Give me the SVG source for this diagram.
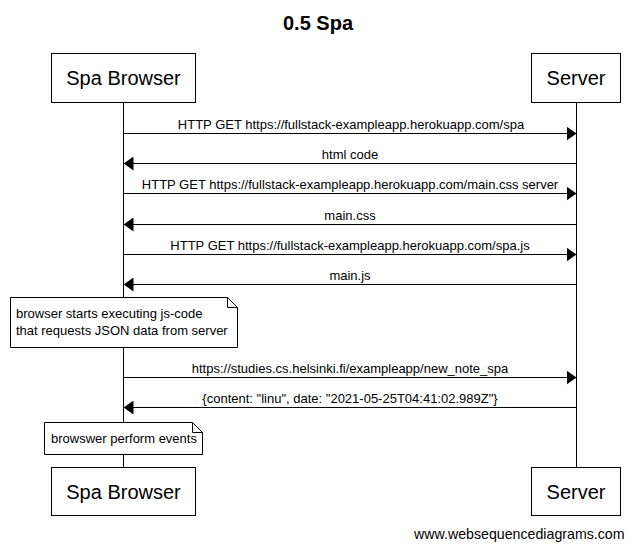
<svg xmlns="http://www.w3.org/2000/svg" width="635" height="550" viewBox="0 0 635 550">
<style>
text{font-family:"Liberation Sans",Arial,sans-serif;fill:#000}
.title{font-size:20px;font-weight:bold;text-anchor:middle}
.actor rect{fill:#fff;stroke:#000;stroke-width:1}
.actor text{font-size:20px;text-anchor:middle}
.life{stroke:#000;stroke-width:1}
.msg line{stroke:#000;stroke-width:1}
.msg text{font-size:13px;text-anchor:middle}
.note path{fill:#fff;stroke:#000;stroke-width:1}
.note text{font-size:13px}
.foot{font-size:14.2px}
</style>
<defs>
<marker id="ah" markerWidth="10" markerHeight="14" refX="10" refY="7" orient="auto" markerUnits="userSpaceOnUse">
<path d="M0,0 L10,7 L0,14 Z" fill="#000"/>
</marker>
</defs>
<rect width="635" height="550" fill="#fff"/>
<text class="title" x="318" y="30">0.5 Spa</text>
<g id="lifelines">
<line class="life" x1="123.5" y1="102" x2="123.5" y2="467"/>
<line class="life" x1="576.5" y1="102" x2="576.5" y2="467"/>
</g>
<g id="browser-top" class="actor"><rect x="51.5" y="53.5" width="144" height="49"/><text x="123.5" y="85">Spa Browser</text></g>
<g id="server-top" class="actor"><rect x="531.5" y="53.5" width="89" height="49"/><text x="576" y="85">Server</text></g>
<g id="connectors" class="msg">
<line x1="123.5" y1="133.5" x2="576.5" y2="133.5" marker-end="url(#ah)"/>
<text x="351" y="129">HTTP GET https://fullstack-exampleapp.herokuapp.com/spa</text>
<line x1="576.5" y1="163.5" x2="123.5" y2="163.5" marker-end="url(#ah)"/>
<text x="350" y="159">html code</text>
<line x1="123.5" y1="193.5" x2="576.5" y2="193.5" marker-end="url(#ah)"/>
<text x="350" y="189">HTTP GET https://fullstack-exampleapp.herokuapp.com/main.css server</text>
<line x1="576.5" y1="224.5" x2="123.5" y2="224.5" marker-end="url(#ah)"/>
<text x="350" y="220">main.css</text>
<line x1="123.5" y1="254.5" x2="576.5" y2="254.5" marker-end="url(#ah)"/>
<text x="350" y="250">HTTP GET https://fullstack-exampleapp.herokuapp.com/spa.js</text>
<line x1="576.5" y1="284.5" x2="123.5" y2="284.5" marker-end="url(#ah)"/>
<text x="350" y="280">main.js</text>
<line x1="123.5" y1="377.5" x2="576.5" y2="377.5" marker-end="url(#ah)"/>
<text x="350" y="373">https://studies.cs.helsinki.fi/exampleapp/new_note_spa</text>
<line x1="576.5" y1="407.5" x2="123.5" y2="407.5" marker-end="url(#ah)"/>
<text x="350" y="403">{content: "linu", date: "2021-05-25T04:41:02.989Z"}</text>
</g>
<g id="note1" class="note">
<path d="M10.5,297.5 H227.5 L237.5,307.5 V347.5 H10.5 Z M227.5,297.5 V307.5 H237.5"/>
<text x="16" y="318">browser starts executing js-code</text>
<text x="16" y="335">that requests JSON data from server</text>
</g>
<g id="note2" class="note">
<path d="M44.5,422.5 H192.5 L202.5,432.5 V454.5 H44.5 Z M192.5,422.5 V432.5 H202.5"/>
<text x="51" y="443">browswer perform events</text>
</g>
<g id="browser-bottom" class="actor"><rect x="51.5" y="467.5" width="144" height="48"/><text x="123.5" y="499">Spa Browser</text></g>
<g id="server-bottom" class="actor"><rect x="531.5" y="467.5" width="89" height="48"/><text x="576" y="499">Server</text></g>
<text class="foot" x="414" y="539">www.websequencediagrams.com</text>
</svg>
